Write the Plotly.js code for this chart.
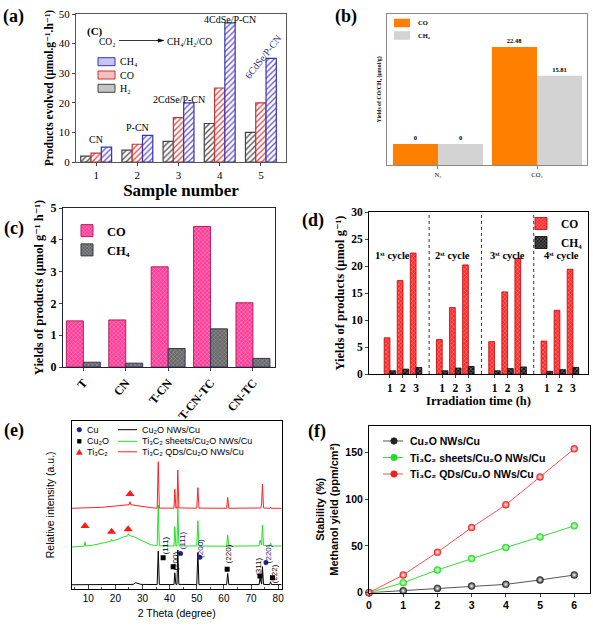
<!DOCTYPE html>
<html><head><meta charset="utf-8">
<script src="https://cdn.plot.ly/plotly-3.0.1.min.js"></script>
<style>html,body{margin:0;padding:0;background:#fff}#chart{width:593px;height:626px}</style>
</head><body><div id="chart"></div>
<script>
// ================= DATA =================
// (a) products evolved per sample
const aSamples = [1, 2, 3, 4, 5];
const aSampleNames = ['CN', 'P-CN', '2CdSe/P-CN', '4CdSe/P-CN', '6CdSe/P-CN'];
const aH2 = [2, 4, 7, 13, 10];
const aCO = [3, 6, 15, 25, 20];
const aCH4 = [5, 9, 20, 47, 35];
// (b) yields under N2 / CO2
const bGas = ['N₂', 'CO₂'];
const bCO = [0, 22.48];
const bCH4 = [0, 15.81];
// (c) yields of products
const cSamples = ['T', 'CN', 'T-CN', 'T-CN-TC', 'CN-TC'];
const cCO = [1.45, 1.48, 3.15, 4.42, 2.02];
const cCH4 = [0.15, 0.12, 0.58, 1.20, 0.27];
// (d) cycling test
const dCycles = [1, 1, 1, 2, 2, 2, 3, 3, 3, 4, 4, 4];
const dHours = [1, 2, 3, 1, 2, 3, 1, 2, 3, 1, 2, 3];
const dCO = [6.7, 17.3, 22.4, 6.4, 12.3, 20.2, 6.0, 15.2, 21.4, 6.1, 11.8, 19.4];
const dCH4 = [0.6, 0.9, 1.2, 0.6, 1.1, 1.4, 0.6, 1.0, 1.3, 0.5, 0.8, 1.2];
const dCycleNames = ['1ˢᵗ cycle', '2ˢᵗ cycle', '3ˢᵗ cycle', '4ˢᵗ cycle'];
// (e) XRD patterns (2theta, relative intensity a.u.)
const eBlackX = [4, 10, 20, 26.5, 27.5, 28.5, 29.5, 35.4, 35.8, 36.2, 41.6, 41.9, 42.3, 42.7, 43.0, 43.4, 50.0, 50.4, 50.8, 61.0, 61.4, 61.8, 73.0, 73.3, 73.7, 73.9, 74.2, 74.6, 76.9, 77.2, 77.5, 81.3];
const eBlackY = [0.8, 0.8, 0.9, 1.0, 2.0, 1.6, 1.0, 0.9, 21.3, 0.9, 0.9, 8.1, 1.0, 1.0, 22.0, 1.0, 0.9, 20.5, 0.9, 0.9, 7.7, 0.9, 0.9, 4.9, 1.2, 1.2, 11.8, 1.0, 0.9, 2.6, 0.9, 0.9];
const eGreenX = [4, 7, 8.5, 8.8, 9.1, 12, 15, 18.3, 18.6, 18.9, 21, 23, 24.5, 24.8, 25.1, 27, 29, 31, 33, 35.4, 35.8, 36.2, 41.6, 41.9, 42.3, 42.7, 43.0, 43.4, 50.0, 50.4, 50.8, 61.0, 61.4, 61.8, 72.9, 73.3, 73.7, 73.9, 74.2, 74.6, 76.9, 77.2, 77.5, 81.3];
const eGreenY = [23.8, 24.0, 24.3, 27.0, 24.4, 25.0, 26.0, 27.3, 28.5, 27.5, 28.5, 30.0, 30.6, 32.0, 30.8, 30.0, 28.3, 26.5, 25.2, 24.6, 49.4, 24.5, 24.4, 36.2, 24.5, 24.5, 48.4, 24.5, 24.4, 39.8, 24.4, 24.3, 31.1, 24.3, 24.5, 28.0, 25.0, 25.0, 37.2, 24.8, 24.4, 26.2, 24.4, 24.4];
const eRedX = [4, 10, 15, 20, 23, 25.1, 25.4, 25.7, 28, 31, 34, 35.4, 35.8, 36.2, 41.6, 41.9, 42.3, 42.7, 43.0, 43.4, 50.0, 50.4, 50.8, 61.0, 61.4, 61.8, 73.6, 73.9, 74.2, 74.6, 76.9, 77.2, 77.5, 81.3];
const eRedY = [47.4, 47.5, 48.0, 48.8, 49.4, 49.6, 51.4, 49.6, 49.0, 48.2, 47.6, 47.5, 75.8, 47.5, 47.5, 59.0, 47.6, 47.6, 70.7, 47.6, 47.5, 60.0, 47.5, 47.4, 54.0, 47.4, 47.6, 50.0, 62.2, 47.6, 47.4, 48.2, 47.4, 47.4];
const eCuX = [44.0, 51.1, 75.5];
const eCuY = [19.9, 17.5, 14.4];
const eCu2OX = [37.6, 41.3, 61.2, 73.3, 77.9];
const eCu2OY = [17.3, 11.8, 10.2, 6.1, 5.1];
const eTiX = [8.8, 18.6, 24.7, 25.4];
const eTiY = [36.6, 33.1, 34.6, 56.1];
const eHkl = ['(111)', '(200)', '(111)', '(200)', '(220)', '(311)', '(220)', '(222)'];
const eHklPhase = ['Cu2O', 'Cu2O', 'Cu', 'Cu', 'Cu2O', 'Cu2O', 'Cu', 'Cu2O'];
const eHklX = [38.4, 42.0, 44.6, 51.4, 61.6, 73.0, 76.3, 78.5];
const eHklY = [25, 15, 28, 23, 19.5, 11.8, 19.5, 7.2];
// (f) methanol yield vs time
const fTime = [0, 1, 2, 3, 4, 5, 6];
const fCu2O = [0, 2.1, 4.6, 7.1, 8.9, 13.6, 18.9];
const fSheets = [0, 10.7, 24.3, 36.4, 48.2, 59.6, 71.4];
const fQDs = [0, 18.9, 43.2, 69.6, 93.9, 123.6, 153.6];

// ================= HELPERS =================
const W = 593, H = 626;
const X = px => px / W;
const Y = py => 1 - py / H;
const SERIF = '"Liberation Serif", "DejaVu Serif", "Times New Roman", serif';
const SANS = '"Liberation Sans", "DejaVu Sans", Arial, sans-serif';

const traces = [];
const annotations = [];
const shapes = [];

function ann(o) { annotations.push(Object.assign({showarrow: false}, o)); }
function rectPx(x0, y0, x1, y1, fill, line, lw) {
  shapes.push({type: 'rect', xref: 'paper', yref: 'paper', x0: X(x0), x1: X(x1), y0: Y(y1), y1: Y(y0),
    fillcolor: fill, line: {color: line, width: lw === undefined ? 1 : lw}});
}
function linePx(x0, y0, x1, y1, color, lw) {
  shapes.push({type: 'line', xref: 'paper', yref: 'paper', x0: X(x0), x1: X(x1), y0: Y(y0), y1: Y(y1),
    line: {color: color, width: lw || 1}});
}
function circlePx(cx, cy, r, fill, line) {
  shapes.push({type: 'circle', xref: 'paper', yref: 'paper', x0: X(cx - r), x1: X(cx + r), y0: Y(cy + r), y1: Y(cy - r),
    fillcolor: fill, line: {color: line || fill, width: 0.8}});
}
function triPx(cx, cy, s, fill) {
  const p = `M${X(cx - s / 2)},${Y(cy + s * 0.43)} L${X(cx + s / 2)},${Y(cy + s * 0.43)} L${X(cx)},${Y(cy - s * 0.43)} Z`;
  shapes.push({type: 'path', xref: 'paper', yref: 'paper', path: p, fillcolor: fill, line: {color: fill, width: 0.5}});
}
function textPx(x, y, text, font, xanchor) {
  ann({xref: 'paper', yref: 'paper', x: X(x), y: Y(y), text: text, font: font, xanchor: xanchor || 'left', yanchor: 'middle'});
}

// ================= (a) =================
const aStyle = [
  {name: 'H₂', data: aH2, col: '#444444', hatch: '#555555', off: -0.375, fill: '#c4c4c4'},
  {name: 'CO', data: aCO, col: '#cc3333', hatch: '#d65050', off: -0.125, fill: '#f2c0c0'},
  {name: 'CH₄', data: aCH4, col: '#3535b0', hatch: '#6a5acd', off: 0.125, fill: '#c8c4f0'}
];
aStyle.forEach(s => traces.push({
  type: 'bar', x: aSamples, y: s.data, name: s.name, xaxis: 'x', yaxis: 'y', showlegend: false,
  width: 0.25, offset: s.off,
  marker: {color: 'white', line: {color: s.col, width: 1.2},
    pattern: {shape: '/', fgcolor: s.hatch, bgcolor: 'white', size: 4, solidity: 0.35}}
}));
const aLabelPos = [[1, 7.7, 0], [2, 11.6, 0], [3, 21.2, 0], [4.24, 48.2, 0], [5.06, 35.6, -52]];
aSampleNames.forEach((t, i) => ann({xref: 'x', yref: 'y', x: aLabelPos[i][0], y: aLabelPos[i][1], text: t,
  textangle: aLabelPos[i][2], font: {family: SERIF, size: 10, color: i === 4 ? '#2a2a80' : '#000'}}));
ann({xref: 'paper', yref: 'paper', x: X(85), y: Y(23), text: '(C)', font: {family: SERIF, size: 11, weight: 700}});
textPx(97, 42, 'CO₂', {family: SERIF, size: 9.5});
linePx(119, 40.5, 160, 40.5, '#000', 0.8);
shapes.push({type: 'path', xref: 'paper', yref: 'paper',
  path: `M${X(158)},${Y(38.8)} L${X(164)},${Y(40.5)} L${X(158)},${Y(42.2)} Z`, fillcolor: '#000', line: {color: '#000', width: 0.5}});
textPx(165, 42, 'CH₄/H₂/CO', {family: SERIF, size: 9.5});
// legend (a)
[aStyle[2], aStyle[1], aStyle[0]].forEach((s, i) => {
  const cy = 61.7 + i * 13.3;
  rectPx(98, cy - 4, 115, cy + 4, s.fill, s.col, 1);
  textPx(118, cy, s.name, {family: SERIF, size: 10});
});

// ================= (b) =================
const bBase = -4.87;
const bStyle = [
  {name: 'CO', data: bCO, col: '#ff8000', off: -0.455},
  {name: 'CH₄', data: bCH4, col: '#d3d3d3', off: 0}
];
bStyle.forEach(s => traces.push({
  type: 'bar', x: bGas, y: s.data.map(v => v - bBase), base: bBase, name: s.name, xaxis: 'x2', yaxis: 'y2',
  showlegend: false, width: 0.455, offset: s.off, marker: {color: s.col, line: {width: 0}},
  text: s.data.map(v => String(v)), textposition: 'outside', cliponaxis: false,
  textfont: {family: SERIF, size: 6.5, weight: 700, color: '#000'}
}));
bStyle.forEach((s, i) => {
  const cy = 23 + i * 12.5;
  rectPx(394, cy - 4.3, 410, cy + 4.3, s.col, s.col, 0);
  textPx(416, cy, s.name, {family: SERIF, size: 6.5, weight: 700});
});

// ================= (c) =================
traces.push({type: 'bar', x: cSamples, y: cCO, name: 'CO', xaxis: 'x3', yaxis: 'y3', legend: 'legend',
  width: 0.4, offset: -0.4,
  marker: {color: '#ff4fa3', line: {color: '#b0205f', width: 1},
    pattern: {shape: 'x', fgcolor: '#ffb0d6', bgcolor: '#ff3d98', size: 3, solidity: 0.25}}});
traces.push({type: 'bar', x: cSamples, y: cCH4, name: 'CH₄', xaxis: 'x3', yaxis: 'y3', legend: 'legend',
  width: 0.4, offset: 0,
  marker: {color: '#777777', line: {color: '#333355', width: 1},
    pattern: {shape: 'x', fgcolor: '#b5b5b5', bgcolor: '#666666', size: 3, solidity: 0.25}}});

// ================= (d) =================
const dPos = dCycles.map((c, i) => (c - 1) * 4 + dHours[i]);
traces.push({type: 'bar', x: dPos, y: dCO, name: 'CO', xaxis: 'x4', yaxis: 'y4', legend: 'legend2',
  width: 0.44, offset: -0.44,
  marker: {color: '#ff2a2a', line: {color: '#c00000', width: 0.8},
    pattern: {shape: 'x', fgcolor: '#ffb3b3', bgcolor: '#ff2a2a', size: 3, solidity: 0.25}}});
traces.push({type: 'bar', x: dPos, y: dCH4, name: 'CH₄', xaxis: 'x4', yaxis: 'y4', legend: 'legend2',
  width: 0.44, offset: 0,
  marker: {color: '#222222', line: {color: '#000000', width: 0.8},
    pattern: {shape: 'x', fgcolor: '#9a9a9a', bgcolor: '#1a1a1a', size: 3, solidity: 0.3}}});
[1, 2, 3].forEach(c => shapes.push({type: 'line', xref: 'x4', yref: 'y4 domain', x0: c * 4, x1: c * 4, y0: 0, y1: 1,
  line: {color: '#333', width: 1, dash: 'dot'}}));
const dLabelX = [1.2, 5.8, 10.0, 14.1];
dCycleNames.forEach((t, i) => ann({xref: 'x4', yref: 'y4', x: dLabelX[i], y: 21.9, text: t,
  font: {family: SERIF, size: 10.5, weight: 700}}));

// ================= (e) =================
traces.push({type: 'scatter', mode: 'lines', x: eBlackX, y: eBlackY, name: 'Cu₂O NWs/Cu',
  xaxis: 'x5', yaxis: 'y5', showlegend: false, line: {color: '#000', width: 1}});
traces.push({type: 'scatter', mode: 'lines', x: eGreenX, y: eGreenY, name: 'Ti₃C₂ sheets/Cu₂O NWs/Cu',
  xaxis: 'x5', yaxis: 'y5', showlegend: false, line: {color: '#22e022', width: 1}});
traces.push({type: 'scatter', mode: 'lines', x: eRedX, y: eRedY, name: 'Ti₃C₂ QDs/Cu₂O NWs/Cu',
  xaxis: 'x5', yaxis: 'y5', showlegend: false, line: {color: '#ff2020', width: 1}});
traces.push({type: 'scatter', mode: 'markers', x: eCuX, y: eCuY, name: 'Cu', xaxis: 'x5', yaxis: 'y5', showlegend: false,
  marker: {symbol: 'circle', size: 5, color: '#1a237e'}});
traces.push({type: 'scatter', mode: 'markers', x: eCu2OX, y: eCu2OY, name: 'Cu₂O', xaxis: 'x5', yaxis: 'y5', showlegend: false,
  marker: {symbol: 'square', size: 5, color: '#000'}});
traces.push({type: 'scatter', mode: 'markers', x: eTiX, y: eTiY, name: 'Ti₃C₂', xaxis: 'x5', yaxis: 'y5', showlegend: false,
  marker: {symbol: 'triangle-up', size: 8, color: '#ff1a1a'}});
eHkl.forEach((t, i) => ann({xref: 'x5', yref: 'y5', x: eHklX[i], y: eHklY[i], text: t, textangle: -90,
  font: {family: SANS, size: 8, color: eHklPhase[i] === 'Cu' ? '#1a237e' : '#000'}, xanchor: 'center', yanchor: 'middle'}));
// legend (e)
const eRows = [429.7, 441.3, 451.8];
circlePx(79.3, eRows[0], 2.2, '#1a237e');
rectPx(77.2, eRows[1] - 2.2, 81.4, eRows[1] + 2.2, '#000', '#000', 0);
triPx(79.3, eRows[2], 6, '#ff1a1a');
textPx(85, eRows[0], 'Cu', {family: SANS, size: 9});
textPx(85, eRows[1], 'Cu₂O', {family: SANS, size: 9});
textPx(85, eRows[2], 'Ti₃C₂', {family: SANS, size: 9});
const eLineCols = ['#000', '#22e022', '#ff2020'];
const eLineNames = ['Cu₂O NWs/Cu', 'Ti₃C₂ sheets/Cu₂O NWs/Cu', 'Ti₃C₂ QDs/Cu₂O NWs/Cu'];
eLineNames.forEach((t, i) => {
  linePx(118, eRows[i], 137, eRows[i], eLineCols[i], 1);
  textPx(140, eRows[i], t, {family: SANS, size: 9});
});

// ================= (f) =================
const fSeries = [
  {name: 'Cu₂O NWs/Cu', y: fCu2O, line: '#555555', mk: '#222222'},
  {name: 'Ti₃C₂ sheets/Cu₂O NWs/Cu', y: fSheets, line: '#33dd33', mk: '#22dd22'},
  {name: 'Ti₃C₂ QDs/Cu₂O NWs/Cu', y: fQDs, line: '#ff5050', mk: '#ee2020'}
];
fSeries.forEach(s => traces.push({type: 'scatter', mode: 'lines+markers', x: fTime, y: s.y, name: s.name,
  xaxis: 'x6', yaxis: 'y6', showlegend: false, cliponaxis: false,
  line: {color: s.line, width: 1},
  marker: {size: 7, color: s.mk, line: {color: s.mk, width: 0.5}, gradient: {type: 'radial', color: '#ffffff'}}}));
const fRows = [441, 457.5, 474];
fSeries.forEach((s, i) => {
  linePx(383, fRows[i], 403, fRows[i], s.line, 1);
  circlePx(394, fRows[i], 3.2, s.mk, s.mk);
  textPx(408, fRows[i], s.name, {family: SANS, size: 10.5, weight: 700});
});

// ================= panel letters =================
[['(a)', 13.5, 16], ['(b)', 345.5, 16.5], ['(c)', 14, 228], ['(d)', 312.5, 220.5], ['(e)', 14, 430], ['(f)', 317, 431.5]]
  .forEach(p => textPx(p[1], p[2], p[0], {family: SERIF, size: 18, weight: 700}, 'center'));

// ================= LAYOUT =================
const frame = (c) => ({showline: true, mirror: true, linecolor: c, linewidth: 1, zeroline: false, showgrid: false});
const layout = {
  width: W, height: H, margin: {l: 0, r: 0, t: 0, b: 0},
  paper_bgcolor: 'white', plot_bgcolor: 'white',
  font: {family: SERIF, color: '#000'},
  showlegend: true, barmode: 'group',
  // (a)
  xaxis: Object.assign(frame('#555'), {domain: [X(76), X(286)], anchor: 'y', range: [0.51, 5.61], tickvals: aSamples,
    ticks: 'outside', ticklen: 3, tickfont: {family: SERIF, size: 11},
    title: {text: 'Sample number', font: {family: SERIF, size: 17, weight: 700}, standoff: 2}}),
  yaxis: Object.assign(frame('#555'), {domain: [Y(162), Y(14)], anchor: 'x', range: [0, 50], dtick: 10,
    ticks: 'outside', ticklen: 3, tickfont: {family: SERIF, size: 11},
    title: {text: 'Products evolved (μmol.g⁻¹.h⁻¹)', font: {family: SERIF, size: 11.5, weight: 700}, standoff: 2}}),
  // (b)
  xaxis2: Object.assign(frame('#888'), {domain: [X(387), X(587)], anchor: 'y2', range: [-0.515, 1.505], type: 'category',
    ticks: 'outside', ticklen: 3, tickcolor: '#888', tickfont: {family: SERIF, size: 6.5}}),
  yaxis2: Object.assign(frame('#888'), {domain: [Y(165), Y(14)], anchor: 'x2', range: [bBase, 30.1],
    showticklabels: false, ticks: '',
    title: {text: 'Yields of CO/CH₄ (μmol/g)', font: {family: SERIF, size: 5.8, weight: 700}, standoff: 3}}),
  // (c)
  xaxis3: Object.assign(frame('#222244'), {domain: [X(63), X(275)], anchor: 'y3', range: [-0.48, 4.52], type: 'category',
    ticks: 'outside', ticklen: 3, tickangle: -50, tickfont: {family: SERIF, size: 12, weight: 700}}),
  yaxis3: Object.assign(frame('#222244'), {domain: [Y(367), Y(208)], anchor: 'x3', range: [0, 5], dtick: 1,
    ticks: 'outside', ticklen: 3, tickfont: {family: SERIF, size: 12, weight: 700},
    title: {text: 'Yields of products (μmol g⁻¹ h⁻¹)', font: {family: SERIF, size: 12.5, weight: 700}, standoff: 4}}),
  // (d)
  xaxis4: Object.assign(frame('#000'), {domain: [X(369), X(588)], anchor: 'y4', range: [-0.6, 16.15],
    tickvals: dPos, ticktext: dHours.map(String), ticks: 'outside', ticklen: 3,
    tickfont: {family: SERIF, size: 11.5, weight: 700},
    title: {text: 'Irradiation time (h)', font: {family: SERIF, size: 12.5, weight: 700}, standoff: 0}}),
  yaxis4: Object.assign(frame('#000'), {domain: [Y(374), Y(212)], anchor: 'x4', range: [0, 30], dtick: 5,
    ticks: 'outside', ticklen: 3, tickfont: {family: SERIF, size: 11.5, weight: 700},
    title: {text: 'Yields of products (μmol g⁻¹)', font: {family: SERIF, size: 12.5, weight: 700}, standoff: 3}}),
  // (e)
  xaxis5: Object.assign(frame('#000'), {domain: [X(71.7), X(281.7)], anchor: 'y5', range: [3.9, 81.3], dtick: 10,
    ticks: 'inside', ticklen: 4, minor: {dtick: 5, ticks: 'inside', ticklen: 2},
    tickfont: {family: SANS, size: 10},
    title: {text: '2 Theta (degree)', font: {family: SANS, size: 10.5}, standoff: 6}}),
  yaxis5: Object.assign(frame('#000'), {domain: [Y(589), Y(420.7)], anchor: 'x5', range: [-1.8, 100.8],
    showticklabels: false, ticks: '',
    title: {text: 'Relative intensity (a.u.)', font: {family: SANS, size: 10.5}, standoff: 14}}),
  // (f)
  xaxis6: Object.assign(frame('#000'), {domain: [X(369), X(590)], anchor: 'y6', range: [0, 6.46], dtick: 1,
    ticks: 'outside', ticklen: 3, tickfont: {family: SANS, size: 10.5, weight: 700}}),
  yaxis6: Object.assign(frame('#000'), {domain: [Y(592.7), Y(426)], anchor: 'x6', range: [0, 178], dtick: 50,
    ticks: 'outside', ticklen: 3, tickfont: {family: SANS, size: 10.5, weight: 700},
    title: {text: 'Stability (%)<br>Methanol yield (ppm/cm²)', font: {family: SANS, size: 11, weight: 700}, standoff: 4}}),
  legend: {x: X(67), y: Y(216), xanchor: 'left', yanchor: 'top', bgcolor: 'rgba(0,0,0,0)',
    font: {family: SERIF, size: 12.5, weight: 700}, tracegroupgap: 0},
  legend2: {x: X(521), y: Y(209), xanchor: 'left', yanchor: 'top', bgcolor: 'rgba(0,0,0,0)',
    font: {family: SERIF, size: 11.5, weight: 700}, tracegroupgap: 0},
  annotations: annotations,
  shapes: shapes
};

Plotly.newPlot('chart', traces, layout, {displayModeBar: false, staticPlot: true});
</script>
</body></html>
